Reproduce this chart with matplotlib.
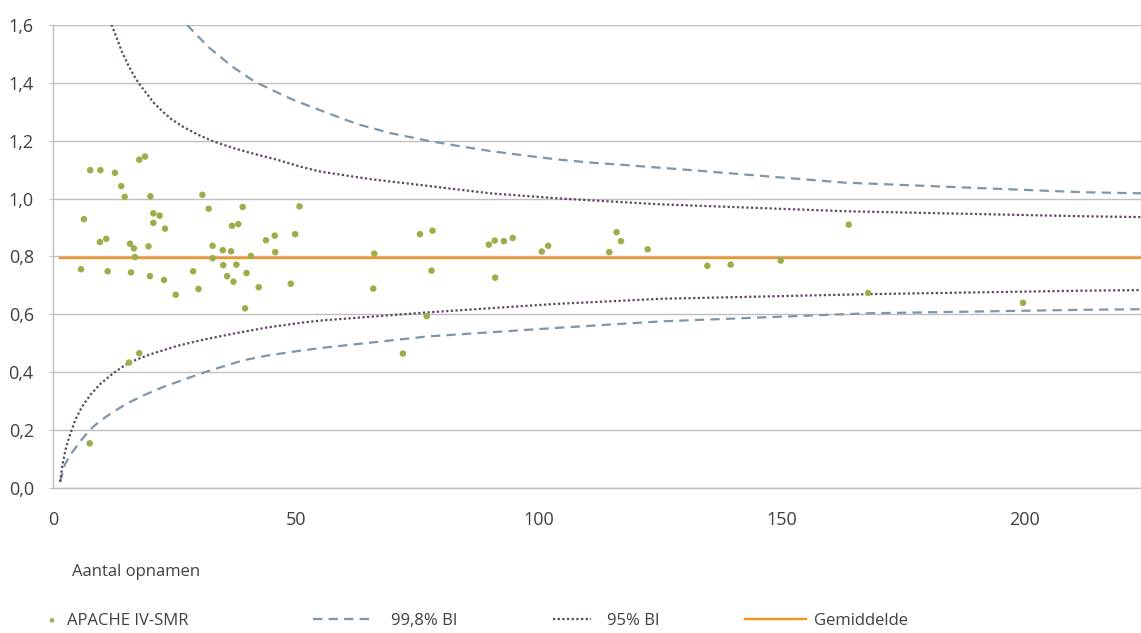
import matplotlib
matplotlib.use("Agg")
import matplotlib.pyplot as plt
from matplotlib.ticker import FixedLocator, FixedFormatter

# ---------------- data ----------------
smr_n = [6.3, 7.6, 9.7, 9.6, 10.9, 12.7, 14.0, 14.7, 15.8, 16.6, 16.8, 17.7, 18.9,
         20.0, 20.6, 20.6, 21.9, 23.0, 19.6, 30.7, 32.0, 32.8, 32.8, 34.9, 36.6,
         36.8, 38.1, 39.0, 40.7, 43.8, 45.6, 45.7, 49.8, 50.7,
         5.7, 11.2, 16.0, 19.9, 22.8, 25.2, 28.8, 29.9, 35.0, 35.8, 37.1, 37.7,
         39.8, 39.5, 42.3, 48.9, 15.6, 17.7, 7.5,
         66.1, 65.9, 75.5, 78.1, 77.9, 76.9, 72.0, 89.7, 90.9, 92.8, 94.6, 91.0,
         100.6, 101.9, 114.5, 116.0, 116.9, 122.4,
         134.7, 139.5, 149.8, 163.8, 167.8, 199.7]
smr_val = [0.929, 1.098, 1.098, 0.850, 0.861, 1.089, 1.043, 1.006, 0.844, 0.828, 0.798,
           1.134, 1.145, 1.008, 0.949, 0.916, 0.941, 0.896, 0.835, 1.013, 0.965, 0.837,
           0.794, 0.822, 0.818, 0.906, 0.912, 0.971, 0.802, 0.856, 0.872, 0.815, 0.877,
           0.973,
           0.756, 0.749, 0.745, 0.732, 0.719, 0.668, 0.749, 0.688, 0.770, 0.732, 0.713,
           0.772, 0.743, 0.621, 0.694, 0.706, 0.434, 0.466, 0.155,
           0.810, 0.689, 0.877, 0.889, 0.751, 0.594, 0.465, 0.841, 0.855, 0.853, 0.864,
           0.727, 0.817, 0.837, 0.815, 0.884, 0.853, 0.825,
           0.768, 0.772, 0.786, 0.910, 0.674, 0.640]

ci95_up_n = [12.0, 13.1, 14.1, 15.5, 16.9, 17.9, 19.3, 20.6, 22.4, 24.4, 26.8, 29.6,
             33.0, 37.1, 41.2, 46.1, 50.9, 55.0, 65.3, 77.0, 90.0, 104.5, 125.1, 163.6,
             211.7, 224.0]
ci95_up_v = [1.600, 1.552, 1.508, 1.458, 1.416, 1.391, 1.361, 1.332, 1.302, 1.273, 1.247,
             1.222, 1.197, 1.174, 1.155, 1.134, 1.110, 1.093, 1.067, 1.044, 1.018, 1.000,
             0.980, 0.956, 0.939, 0.936]

ci95_lo_n = [1.4, 1.9, 2.6, 3.4, 4.5, 5.9, 7.6, 9.6, 12.4, 15.6, 19.9, 25.4, 30.9, 37.8,
             44.0, 50.9, 55.0, 77.0, 103.1, 125.1, 167.7, 211.7, 224.0]
ci95_lo_v = [0.022, 0.083, 0.139, 0.183, 0.235, 0.281, 0.322, 0.359, 0.398, 0.434, 0.462,
             0.491, 0.513, 0.536, 0.555, 0.571, 0.579, 0.607, 0.636, 0.654, 0.670, 0.682,
             0.684]

ci998_up_n = [27.5, 29.9, 32.0, 34.4, 36.8, 39.2, 41.6, 44.3, 47.1, 49.8, 55.7, 62.6,
              69.4, 77.0, 83.2, 90.0, 96.9, 103.8, 110.7, 117.5, 124.4, 129.2, 162.9,
              211.7, 224.0]
ci998_up_v = [1.600, 1.558, 1.522, 1.489, 1.456, 1.429, 1.402, 1.381, 1.358, 1.338, 1.300,
              1.257, 1.226, 1.200, 1.182, 1.164, 1.149, 1.135, 1.124, 1.116, 1.107, 1.101,
              1.055, 1.022, 1.018]

ci998_lo_n = [1.4, 2.4, 3.8, 5.5, 7.6, 9.6, 12.0, 15.1, 18.6, 22.7, 27.5, 32.3, 39.2,
              44.0, 50.9, 55.0, 77.0, 103.1, 125.1, 167.7, 211.7, 224.0]
ci998_lo_v = [0.022, 0.083, 0.122, 0.161, 0.203, 0.232, 0.260, 0.292, 0.321, 0.350, 0.379,
              0.407, 0.442, 0.458, 0.475, 0.484, 0.524, 0.553, 0.576, 0.604, 0.616, 0.618]

mean_n = [1.4, 224.0]
mean_v = [0.795, 0.795]

y_ticks = [0.0, 0.2, 0.4, 0.6, 0.8, 1.0, 1.2, 1.4, 1.6]
y_labels = ["0,0", "0,2", "0,4", "0,6", "0,8", "1,0", "1,2", "1,4", "1,6"]
x_ticks = [0, 50, 100, 150, 200]
x_labels = ["0", "50", "100", "150", "200"]

labels = ["APACHE IV-SMR", "99,8% BI", "95% BI", "Gemiddelde"]
x_title = "Aantal opnamen"

# ---------------- style ----------------
C_PT = "#9bae4a"
C_998 = "#7f96a9"
C_95 = "#5e4561"
C_MEAN = "#f7941d"
C_GRID = "#bfbfbf"
C_TXT = "#404040"

plt.rcParams["font.family"] = ["Open Sans", "DejaVu Sans"]

W, H = 1141, 633
fig = plt.figure(figsize=(W / 100, H / 100), dpi=100)
ax_l, ax_b = 53.3 / W, (H - 488.3) / H
ax_w, ax_h = 1 - ax_l, (488.3 - 24.7) / H
ax = fig.add_axes([ax_l, ax_b, ax_w, ax_h])

ax.set_xlim(0, 224)
ax.set_ylim(0, 1.6)

ax.yaxis.set_major_locator(FixedLocator(y_ticks))
ax.yaxis.set_major_formatter(FixedFormatter(y_labels))
ax.xaxis.set_major_locator(FixedLocator(x_ticks))
ax.xaxis.set_major_formatter(FixedFormatter(x_labels))
ax.set_xticks([0], minor=True)

ax.grid(axis="y", color=C_GRID, linewidth=1.0)
ax.set_axisbelow(True)
for s in ["top", "right"]:
    ax.spines[s].set_visible(False)
ax.spines["left"].set_color(C_GRID)
ax.spines["bottom"].set_color(C_GRID)
ax.spines["left"].set_linewidth(1.0)
ax.spines["bottom"].set_linewidth(1.0)

ax.tick_params(axis="y", which="major", length=3, color=C_GRID, pad=11,
               labelsize=13, labelcolor=C_TXT)
ax.tick_params(axis="x", which="major", length=0, pad=16,
               labelsize=13, labelcolor=C_TXT)
ax.tick_params(axis="x", which="minor", length=15, color=C_GRID, width=1.0)

line_kw = dict(solid_joinstyle="round", dash_joinstyle="round")
h_998, = ax.plot(ci998_up_n, ci998_up_v, color=C_998, lw=1.6, dashes=(4.2, 2.8),
                 label=labels[1], **line_kw)
ax.plot(ci998_lo_n, ci998_lo_v, color=C_998, lw=1.6, dashes=(4.2, 2.8), **line_kw)
h_95, = ax.plot(ci95_up_n, ci95_up_v, color=C_95, lw=1.6, dashes=(1.0, 1.1),
                label=labels[2], **line_kw)
ax.plot(ci95_lo_n, ci95_lo_v, color=C_95, lw=1.6, dashes=(1.0, 1.1), **line_kw)
h_mean, = ax.plot(mean_n, mean_v, color=C_MEAN, lw=1.7, label=labels[3])
h_pts = ax.scatter(smr_n, smr_val, s=22, color=C_PT, edgecolors="none",
                   label=labels[0], zorder=5)

ax.set_xlabel(x_title, fontsize=12, color=C_TXT, ha="left", va="center")
ax.xaxis.set_label_coords((72 - 53.3) / (W - 53.3), -(572 - 488.3) / (488.3 - 24.7))

# legend: four single-entry legends, laid out like the reference
ly = 1 - 620.7 / H
fs = 12
common = dict(loc="center left", frameon=False, fontsize=fs, borderpad=0,
              borderaxespad=0, labelcolor=C_TXT)
fig.legend([h_pts], [labels[0]], bbox_to_anchor=(44 / W, ly), handlelength=0.95,
           handletextpad=0.45, markerscale=0.7, scatterpoints=1, **common)
fig.legend([h_998], [labels[1]], bbox_to_anchor=(313 / W, ly), handlelength=3.7,
           handletextpad=1.0, **common)
fig.legend([h_95], [labels[2]], bbox_to_anchor=(553 / W, ly), handlelength=2.3,
           handletextpad=0.95, **common)
fig.legend([h_mean], [labels[3]], bbox_to_anchor=(744.5 / W, ly), handlelength=3.7,
           handletextpad=0.45, **common)

fig.savefig("out.png", dpi=100)
